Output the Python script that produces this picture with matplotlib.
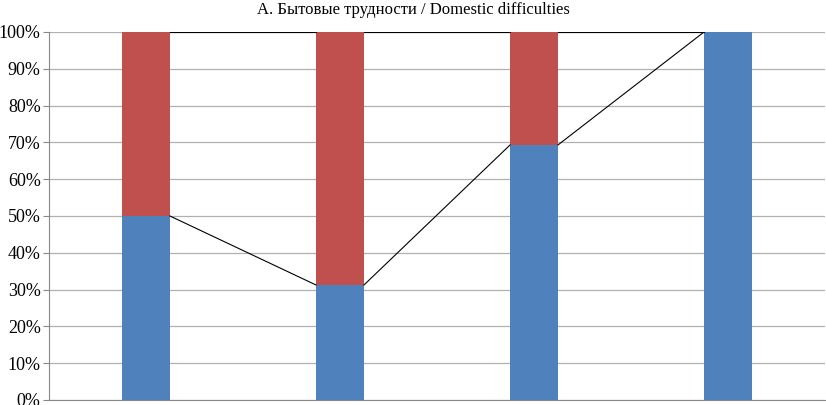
import matplotlib.pyplot as plt
import numpy as np

# данные
categories = ['1', '2', '3', '4']
blue_vals = [50, 31.25, 69.3, 100]
red_vals = [50, 68.75, 30.7, 0]
title = 'A. Бытовые трудности / Domestic difficulties'

plt.rcParams['font.family'] = ['Liberation Serif', 'DejaVu Serif']

fig = plt.figure(figsize=(8.26, 4.05), dpi=100)
ax = fig.add_axes([49 / 826, 5 / 405, 776 / 826, 368 / 405])

x = np.arange(len(categories))
w = 0.247
ax.bar(x, blue_vals, width=w, color='#4f81bd', zorder=3)
ax.bar(x, red_vals, width=w, bottom=blue_vals, color='#c0504d', zorder=3)

# линии рядов между столбцами
tops = np.array(blue_vals) + np.array(red_vals)
for i in range(len(categories) - 1):
    ax.plot([x[i] + w / 2, x[i + 1] - w / 2], [blue_vals[i], blue_vals[i + 1]],
            color='black', lw=0.8, zorder=4)
    ax.plot([x[i] + w / 2, x[i + 1] - w / 2], [tops[i], tops[i + 1]],
            color='black', lw=0.8, zorder=4)

ax.set_xlim(-0.5, len(categories) - 0.5)
ax.set_ylim(0, 100)
ax.set_yticks(range(0, 101, 10))
ax.set_yticklabels([f'{v}%' for v in range(0, 101, 10)], fontsize=13)
ax.set_xticks([])
ax.grid(axis='y', color='#b0b0b0', lw=0.9, zorder=0)
for s in ['top', 'right']:
    ax.spines[s].set_visible(False)
ax.spines['left'].set_color('#888888')
ax.spines['bottom'].set_color('#888888')
ax.tick_params(axis='y', length=4, color='#888888', pad=2)

fig.text(0.5, 1 - 10 / 405, title, ha='center', va='center', fontsize=12)

fig.savefig('out.png', dpi=100)
